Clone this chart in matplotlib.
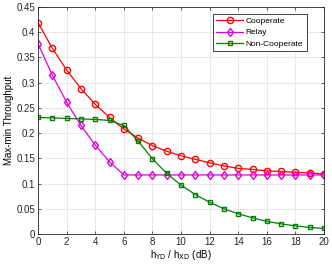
import matplotlib
matplotlib.use("Agg")
import matplotlib.pyplot as plt

h_db = list(range(0, 21))
cooperate = [0.419, 0.368, 0.325, 0.288, 0.257, 0.231, 0.208, 0.190, 0.175, 0.164,
             0.155, 0.148, 0.141, 0.135, 0.130, 0.128, 0.125, 0.124, 0.122, 0.121, 0.119]
relay = [0.377, 0.315, 0.261, 0.215, 0.176, 0.143, 0.117, 0.117, 0.117, 0.117,
         0.117, 0.117, 0.117, 0.117, 0.117, 0.117, 0.117, 0.117, 0.117, 0.117, 0.117]
non_coop = [0.231, 0.230, 0.229, 0.228, 0.227, 0.225, 0.215, 0.184, 0.149, 0.120,
            0.097, 0.078, 0.063, 0.050, 0.040, 0.032, 0.025, 0.020, 0.016, 0.013, 0.011]

plt.rcParams['font.family'] = ['Liberation Sans', 'DejaVu Sans']

fig = plt.figure(figsize=(3.32, 2.65), dpi=100)
ax = fig.add_axes([0.1145, 0.117, 0.8615, 0.857])

ax.plot(h_db, cooperate, color='red', marker='o', markersize=4.5, markerfacecolor='none',
        linewidth=0.9, label='Cooperate')
ax.plot(h_db, relay, color='#dd00dd', marker='d', markersize=4.5, markerfacecolor='none',
        linewidth=0.9, label='Relay')
ax.plot(h_db, non_coop, color='green', marker='s', markersize=3.5, markerfacecolor='none',
        linewidth=0.9, label='Non-Cooperate')

ax.set_xlim(0, 20)
ax.set_ylim(0, 0.45)
ax.set_xticks(range(0, 21, 2))
ax.set_yticks([0, 0.05, 0.1, 0.15, 0.2, 0.25, 0.3, 0.35, 0.4, 0.45])
ax.set_yticklabels(['0', '0.05', '0.1', '0.15', '0.2', '0.25', '0.3', '0.35', '0.4', '0.45'])
ax.tick_params(direction='in', top=True, right=True, labelsize=7, length=2.5, width=0.5,
               colors='#262626', pad=2)
ax.grid(True, color='#e0e0e0', linewidth=0.5)
ax.set_axisbelow(True)
for s in ax.spines.values():
    s.set_linewidth(0.6)
    s.set_color('#262626')

ax.set_xlabel(r'h$_{\mathrm{YD}}$ / h$_{\mathrm{XD}}$ (dB)', fontsize=7, labelpad=1)
ax.set_ylabel('Max-min Throughput', fontsize=7, labelpad=2)

leg = ax.legend(loc='upper right', fontsize=6, fancybox=False, framealpha=1,
                edgecolor='#262626', borderpad=0.45, handlelength=3.2, handletextpad=0.3,
                labelspacing=0.4, borderaxespad=0, bbox_to_anchor=(0.94, 0.97))
leg.get_frame().set_linewidth(0.6)

fig.savefig('out.png', dpi=100)
